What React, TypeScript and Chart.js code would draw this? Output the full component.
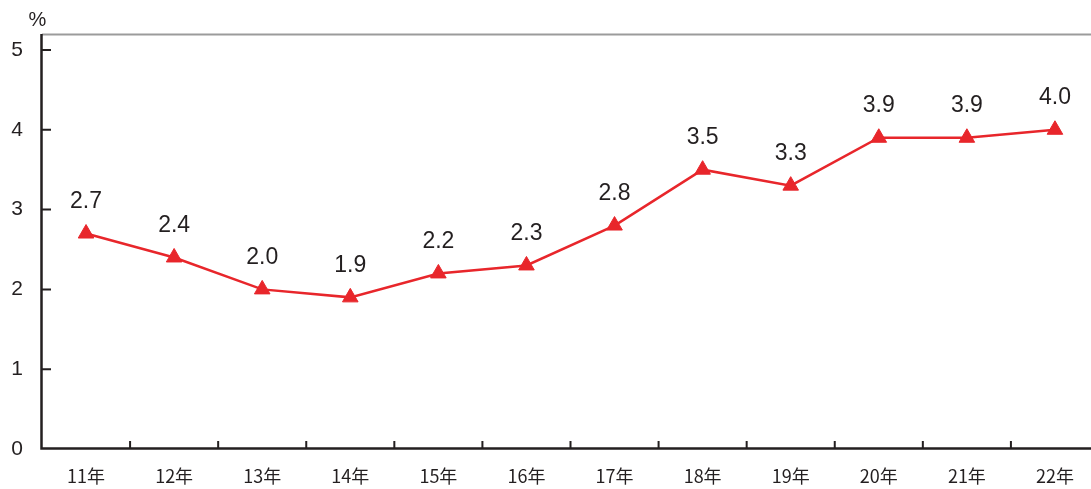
import React, { useEffect, useRef } from "react";
import { Chart, registerables } from "chart.js";

Chart.register(...registerables);

const categories = ["11年", "12年", "13年", "14年", "15年", "16年", "17年", "18年", "19年", "20年", "21年", "22年"];
const values = [2.7, 2.4, 2.0, 1.9, 2.2, 2.3, 2.8, 3.5, 3.3, 3.9, 3.9, 4.0];
const yTicks = [0, 1, 2, 3, 4, 5];
const yMin = 0;
const yMax = 5.2;
const unitLabel = "%";

const RED = "#e8262b";
const INK = "#231f20";

const decorPlugin = {
  id: "decor",
  beforeDatasetsDraw(chart: any) {
    const { ctx, chartArea, scales } = chart;
    const { left, right, top, bottom } = chartArea;
    const x = scales.x;
    const y = scales.y;
    ctx.save();
    ctx.strokeStyle = "#9b9b9b";
    ctx.lineWidth = 2;
    ctx.beginPath();
    ctx.moveTo(left, top + 0.5);
    ctx.lineTo(right + 20, top + 0.5);
    ctx.stroke();
    ctx.strokeStyle = INK;
    ctx.lineWidth = 2.5;
    ctx.beginPath();
    ctx.moveTo(left - 0.5, top);
    ctx.lineTo(left - 0.5, bottom - 0.5);
    ctx.lineTo(right + 20, bottom - 0.5);
    ctx.stroke();
    ctx.lineWidth = 2;
    ctx.beginPath();
    yTicks.forEach((t) => {
      if (t === 0) return;
      const py = y.getPixelForValue(t);
      ctx.moveTo(left, py);
      ctx.lineTo(left + 9, py);
    });
    ctx.stroke();
    ctx.beginPath();
    for (let i = 1; i < categories.length; i++) {
      const px = (x.getPixelForValue(i - 1) + x.getPixelForValue(i)) / 2;
      ctx.moveTo(px, bottom);
      ctx.lineTo(px, bottom - 8);
    }
    ctx.stroke();
    ctx.restore();
  },
  afterDatasetsDraw(chart: any) {
    const { ctx } = chart;
    const meta = chart.getDatasetMeta(0);
    ctx.save();
    ctx.fillStyle = INK;
    ctx.textAlign = "center";
    ctx.textBaseline = "middle";
    ctx.font = "23px 'Liberation Sans', Arial, sans-serif";
    meta.data.forEach((pt: any, i: number) => {
      ctx.fillText(values[i].toFixed(1), pt.x, pt.y - 32);
    });
    ctx.font = "20px 'Liberation Sans', Arial, sans-serif";
    ctx.fillText(unitLabel, 37.5, 20);
    ctx.restore();
  },
};

export default function App() {
  const canvasRef = useRef<HTMLCanvasElement | null>(null);

  useEffect(() => {
    document.body.style.margin = "0";
    const canvas = canvasRef.current;
    if (!canvas) return;
    const chart = new Chart(canvas, {
      type: "line",
      data: {
        labels: categories,
        datasets: [
          {
            data: values,
            borderColor: RED,
            backgroundColor: RED,
            borderWidth: 2.5,
            pointStyle: "triangle",
            pointRadius: 9,
            pointBorderWidth: 1,
            pointBackgroundColor: RED,
            pointBorderColor: RED,
            tension: 0,
          },
        ],
      },
      options: {
        animation: false,
        responsive: false,
        maintainAspectRatio: false,
        layout: { padding: { top: 34, right: 2, left: 0, bottom: 0 } },
        plugins: {
          legend: { display: false },
          tooltip: { enabled: false },
        },
        scales: {
          x: {
            type: "category",
            offset: true,
            grid: { display: false, drawTicks: false },
            border: { display: false },
            ticks: {
              color: INK,
              font: { family: "'Noto Sans CJK JP', sans-serif", size: 18 },
              padding: 16,
              maxRotation: 0,
              autoSkip: false,
            },
            afterFit: (scale: any) => {
              scale.height = 40;
            },
          },
          y: {
            min: yMin,
            max: yMax,
            grid: { display: false, drawTicks: false },
            border: { display: false },
            ticks: {
              color: INK,
              font: { family: "'Liberation Sans', Arial, sans-serif", size: 21 },
              padding: 19,
            },
            afterBuildTicks: (scale: any) => {
              scale.ticks = yTicks.map((v) => ({ value: v }));
            },
            afterFit: (scale: any) => {
              scale.width = 42;
            },
          },
        },
      },
      plugins: [decorPlugin],
    });
    return () => chart.destroy();
  }, []);

  return (
    <div style={{ width: 1091, height: 489, overflow: "hidden", position: "relative" }}>
      <canvas ref={canvasRef} width={1109} height={489} style={{ display: "block" }} />
    </div>
  );
}
